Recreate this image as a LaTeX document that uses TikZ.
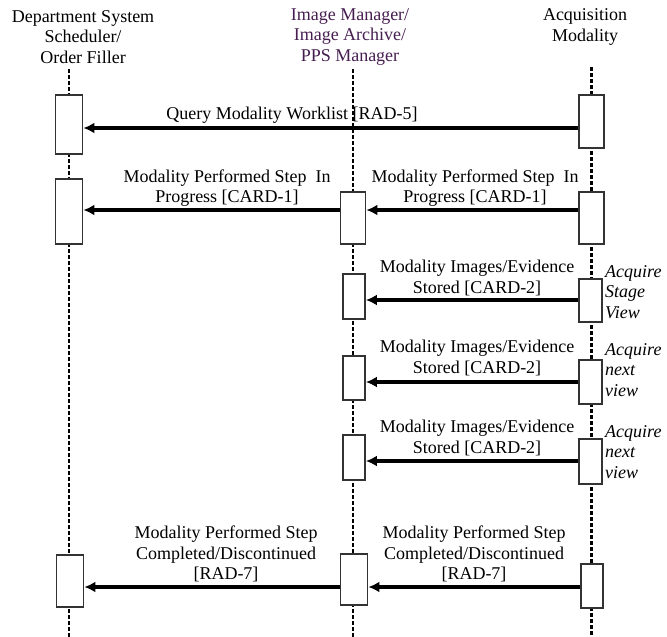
\documentclass[tikz,border=0pt]{standalone}
\usepackage{fontspec}
\setmainfont{Liberation Serif}
\usepackage{xcolor}
\usetikzlibrary{arrows.meta,positioning}

\definecolor{imgpurple}{RGB}{70,30,80}
\newcommand\lblfont{\fontsize{18}{20.5}\selectfont}

\tikzset{
	lifeline/.style={line width=2.8pt,dash pattern=on 4pt off 2pt},
	actbox/.style={draw=black!80,line width=1.8pt,fill=white,inner sep=0pt,anchor=north},
	msg/.style={line width=3.4pt,-{Latex[length=11pt,width=11pt]}},
	hdr/.style={align=center,font=\lblfont,inner sep=0pt},
	lbl/.style={align=center,font=\lblfont,inner sep=0pt},
	note/.style={align=left,anchor=west,font=\lblfont\itshape,inner sep=0pt}
}

\begin{document}
\begin{tikzpicture}[x=1pt,y=-1pt]
		
		\useasboundingbox (0,0) rectangle (667,637);
		
		% actors
		\node[hdr] (hL) at (83,37) {Department System\\Scheduler/\\Order Filler};
		\node[hdr,text=imgpurple] (hM) at (350,37) {Image Manager/\\Image Archive/\\PPS Manager};
		\node[hdr] (hR) at (585,27) {Acquisition\\Modality};
		
		% lifelines
		\draw[lifeline] (69,69) -- (69,637);
		\draw[lifeline] (353,69) -- (353,637);
		\draw[lifeline] (591.5,67) -- (591.5,637);
		
		% activation boxes
		\node[actbox,minimum width=27pt,minimum height=59pt] (L1) at (69,94) {};
		\node[actbox,minimum width=27pt,minimum height=65pt] (L2) at (69,178) {};
		\node[actbox,minimum width=27pt,minimum height=52pt] (L3) at (70,554) {};
		
		\node[actbox,minimum width=25pt,minimum height=52pt] (M1) at (353,191) {};
		\node[actbox,minimum width=22pt,minimum height=45pt] (M2) at (354,273) {};
		\node[actbox,minimum width=22pt,minimum height=44pt] (M3) at (354,355) {};
		\node[actbox,minimum width=22pt,minimum height=45pt] (M4) at (354,434) {};
		\node[actbox,minimum width=27pt,minimum height=51pt] (M5) at (354,553) {};
		
		\node[actbox,minimum width=25pt,minimum height=53pt] (R1) at (591.5,94) {};
		\node[actbox,minimum width=25pt,minimum height=52pt] (R2) at (591.5,191) {};
		\node[actbox,minimum width=23pt,minimum height=43pt] (R3) at (590.5,278) {};
		\node[actbox,minimum width=23pt,minimum height=44pt] (R4) at (590.5,359) {};
		\node[actbox,minimum width=23pt,minimum height=45pt] (R5) at (590.5,438) {};
		\node[actbox,minimum width=22pt,minimum height=44pt] (R6) at (592,563) {};
		
		% messages
		\draw[msg] (R1.west |- 0,128) -- (L1.east |- 0,128);
		\draw[msg] (M1.west |- 0,210) -- (L2.east |- 0,210);
		\draw[msg] (R2.west |- 0,210) -- (M1.east |- 0,210);
		\draw[msg] (R3.west |- 0,300) -- (M2.east |- 0,300);
		\draw[msg] (R4.west |- 0,382) -- (M3.east |- 0,382);
		\draw[msg] (R5.west |- 0,461) -- (M4.east |- 0,461);
		\draw[msg] (M5.west |- 0,587) -- (L3.east |- 0,587);
		\draw[msg] (R6.west |- 0,587) -- (M5.east |- 0,587);
		
		% message labels
		\node[lbl] (qmw) at (292,115) {Query Modality Worklist [RAD-5]};
		\node[lbl] (mpsL) at (227,188) {Modality Performed Step~ In\\Progress [CARD-1]};
		\node[lbl] (mpsR) at (475,188) {Modality Performed Step~ In\\Progress [CARD-1]};
		\node[lbl] (misA) at (477,278) {Modality Images/Evidence\\Stored [CARD-2]};
		\node[lbl] (misB) at (477,358) {Modality Images/Evidence\\Stored [CARD-2]};
		\node[lbl] (misC) at (477,438) {Modality Images/Evidence\\Stored [CARD-2]};
		\node[lbl] (mpcL) at (226,554) {Modality Performed Step\\Completed/Discontinued\\{}[RAD-7]};
		\node[lbl] (mpcR) at (474,554) {Modality Performed Step\\Completed/Discontinued\\{}[RAD-7]};
		
		% acquisition notes
		\node[note] (acqA) at (605,292) {Acquire\\Stage\\View};
		\node[note] (acqB) at (605,370) {Acquire\\next\\view};
		\node[note] (acqC) at (605,452) {Acquire\\next\\view};
		
	\end{tikzpicture}
\end{document}
